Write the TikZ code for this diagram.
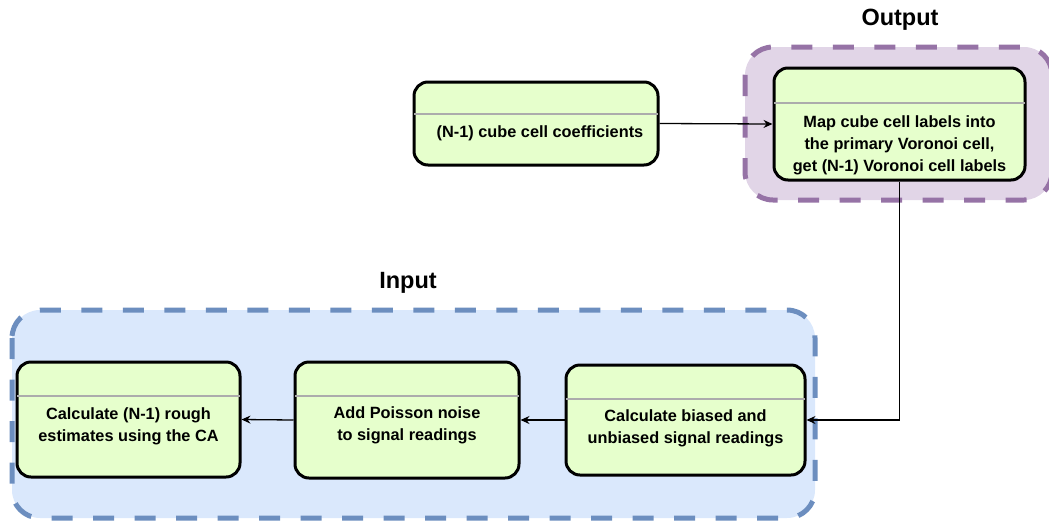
\documentclass[tikz,border=0pt]{standalone}
\usepackage{fontspec}
\setmainfont{Liberation Sans}
\usetikzlibrary{arrows.meta}
\definecolor{stepfill}{HTML}{E6FFCC}
\definecolor{infill}{HTML}{DAE8FC}
\definecolor{indraw}{HTML}{6C8EBF}
\definecolor{outfill}{HTML}{E1D5E7}
\definecolor{outdraw}{HTML}{9673A6}
\tikzset{
  stepbox/.style={draw=black, fill=stepfill, line width=3pt, rounded corners=14pt, inner sep=0pt},
  steptext/.style={align=center, font=\fontsize{16.3}{22}\selectfont\bfseries, inner sep=0pt},
  divider/.style={draw=gray!65, line width=1.8pt},
  group/.style={line width=5pt, dash pattern=on 21pt off 20.5pt, rounded corners=28pt},
  grouptitle/.style={font=\fontsize{23.5}{28}\selectfont\bfseries},
  flow/.style={line width=1.3pt, -{Stealth[length=9pt, width=8pt, inset=3pt]}}
}
\begin{document}
\begin{tikzpicture}[x=1pt, y=-1pt]
\useasboundingbox (0,0) rectangle (1049,520);

% group containers
\draw[group, draw=outdraw, fill=outfill] (745,47) rectangle (1052,200);
\draw[group, draw=indraw, fill=infill] (12,310) rectangle (815,518);
\node[grouptitle] (outtitle) at (900,20) {Output};
\node[grouptitle] (intitle) at (408,283) {Input};

% process steps
\node[stepbox, minimum width=244pt, minimum height=83pt] (coef) at (536,123.5) {};
\draw[divider] (414,114) -- (658,114);
\node[steptext] (coeft) at (540,133) {(N-1) cube cell coefficients};

\node[stepbox, minimum width=251pt, minimum height=112pt] (map) at (899.5,124) {};
\draw[divider] (774,103) -- (1025,103);
\node[steptext] (mapt) at (899.5,145) {Map cube cell labels into\\the primary Voronoi cell,\\get (N-1) Voronoi cell labels};

\node[stepbox, minimum width=239pt, minimum height=110pt] (calc) at (685.5,420) {};
\draw[divider] (566,399) -- (805,399);
\node[steptext] (calct) at (685.5,428.5) {Calculate biased and\\unbiased signal readings};

\node[stepbox, minimum width=224pt, minimum height=116pt] (noise) at (407,420) {};
\draw[divider] (295,396) -- (519,396);
\node[steptext] (noiset) at (407,425.5) {Add Poisson noise\\to signal readings};

\node[stepbox, minimum width=223pt, minimum height=115pt] (rough) at (128.5,419.5) {};
\draw[divider] (17,396) -- (240,396);
\node[steptext] (rought) at (128.5,426.5) {Calculate (N-1) rough\\estimates using the CA};

% connectors
\draw[flow] (coef.east) -- (map.west);
\draw[flow] (map.south) |- (calc.east);
\draw[flow] (calc.west) -- (noise.east);
\draw[flow] (noise.west) -- (rough.east);
\end{tikzpicture}
\end{document}
